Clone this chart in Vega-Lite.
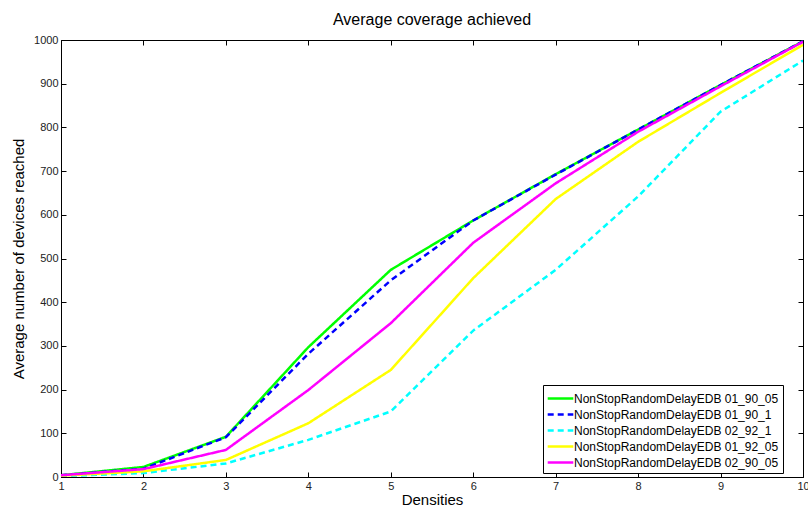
{
  "$schema": "https://vega.github.io/schema/vega-lite/v6.json",
  "width": 742,
  "height": 437,
  "autosize": "none",
  "padding": {"left": 61, "top": 40, "right": 5, "bottom": 30},
  "config": {
    "font": "Liberation Sans",
    "view": {"stroke": "black", "strokeWidth": 1},
    "axis": {"grid": false, "domainColor": "black", "tickColor": "black", "labelColor": "#222", "titleColor": "black", "labelFont": "Liberation Sans", "titleFont": "Liberation Sans", "labelFontSize": 11, "titleFontSize": 15, "titleFontWeight": "normal"}
  },
  "title": {"text": "Average coverage achieved", "fontSize": 16, "fontWeight": "normal", "font": "Liberation Sans", "color": "black", "offset": 6},
  "data": {"values": [
    {"d": 1, "v": 4, "s": "NonStopRandomDelayEDB 01_90_05"},
    {"d": 2, "v": 23, "s": "NonStopRandomDelayEDB 01_90_05"},
    {"d": 3, "v": 92, "s": "NonStopRandomDelayEDB 01_90_05"},
    {"d": 4, "v": 297, "s": "NonStopRandomDelayEDB 01_90_05"},
    {"d": 5, "v": 474, "s": "NonStopRandomDelayEDB 01_90_05"},
    {"d": 6, "v": 587, "s": "NonStopRandomDelayEDB 01_90_05"},
    {"d": 7, "v": 693, "s": "NonStopRandomDelayEDB 01_90_05"},
    {"d": 8, "v": 795, "s": "NonStopRandomDelayEDB 01_90_05"},
    {"d": 9, "v": 897, "s": "NonStopRandomDelayEDB 01_90_05"},
    {"d": 10, "v": 997, "s": "NonStopRandomDelayEDB 01_90_05"},
    {"d": 1, "v": 4, "s": "NonStopRandomDelayEDB 01_90_1"},
    {"d": 2, "v": 19, "s": "NonStopRandomDelayEDB 01_90_1"},
    {"d": 3, "v": 91, "s": "NonStopRandomDelayEDB 01_90_1"},
    {"d": 4, "v": 282, "s": "NonStopRandomDelayEDB 01_90_1"},
    {"d": 5, "v": 450, "s": "NonStopRandomDelayEDB 01_90_1"},
    {"d": 6, "v": 587, "s": "NonStopRandomDelayEDB 01_90_1"},
    {"d": 7, "v": 692, "s": "NonStopRandomDelayEDB 01_90_1"},
    {"d": 8, "v": 795, "s": "NonStopRandomDelayEDB 01_90_1"},
    {"d": 9, "v": 897, "s": "NonStopRandomDelayEDB 01_90_1"},
    {"d": 10, "v": 997, "s": "NonStopRandomDelayEDB 01_90_1"},
    {"d": 1, "v": 2, "s": "NonStopRandomDelayEDB 02_92_1"},
    {"d": 2, "v": 9, "s": "NonStopRandomDelayEDB 02_92_1"},
    {"d": 3, "v": 31, "s": "NonStopRandomDelayEDB 02_92_1"},
    {"d": 4, "v": 85, "s": "NonStopRandomDelayEDB 02_92_1"},
    {"d": 5, "v": 150, "s": "NonStopRandomDelayEDB 02_92_1"},
    {"d": 6, "v": 335, "s": "NonStopRandomDelayEDB 02_92_1"},
    {"d": 7, "v": 474, "s": "NonStopRandomDelayEDB 02_92_1"},
    {"d": 8, "v": 642, "s": "NonStopRandomDelayEDB 02_92_1"},
    {"d": 9, "v": 836, "s": "NonStopRandomDelayEDB 02_92_1"},
    {"d": 10, "v": 953, "s": "NonStopRandomDelayEDB 02_92_1"},
    {"d": 1, "v": 3, "s": "NonStopRandomDelayEDB 01_92_05"},
    {"d": 2, "v": 13, "s": "NonStopRandomDelayEDB 01_92_05"},
    {"d": 3, "v": 39, "s": "NonStopRandomDelayEDB 01_92_05"},
    {"d": 4, "v": 123, "s": "NonStopRandomDelayEDB 01_92_05"},
    {"d": 5, "v": 245, "s": "NonStopRandomDelayEDB 01_92_05"},
    {"d": 6, "v": 455, "s": "NonStopRandomDelayEDB 01_92_05"},
    {"d": 7, "v": 636, "s": "NonStopRandomDelayEDB 01_92_05"},
    {"d": 8, "v": 767, "s": "NonStopRandomDelayEDB 01_92_05"},
    {"d": 9, "v": 879, "s": "NonStopRandomDelayEDB 01_92_05"},
    {"d": 10, "v": 989, "s": "NonStopRandomDelayEDB 01_92_05"},
    {"d": 1, "v": 4, "s": "NonStopRandomDelayEDB 02_90_05"},
    {"d": 2, "v": 18, "s": "NonStopRandomDelayEDB 02_90_05"},
    {"d": 3, "v": 62, "s": "NonStopRandomDelayEDB 02_90_05"},
    {"d": 4, "v": 199, "s": "NonStopRandomDelayEDB 02_90_05"},
    {"d": 5, "v": 352, "s": "NonStopRandomDelayEDB 02_90_05"},
    {"d": 6, "v": 536, "s": "NonStopRandomDelayEDB 02_90_05"},
    {"d": 7, "v": 672, "s": "NonStopRandomDelayEDB 02_90_05"},
    {"d": 8, "v": 790, "s": "NonStopRandomDelayEDB 02_90_05"},
    {"d": 9, "v": 894, "s": "NonStopRandomDelayEDB 02_90_05"},
    {"d": 10, "v": 996, "s": "NonStopRandomDelayEDB 02_90_05"}
  ]},
  "layer": [
    {
      "mark": {"type": "line", "strokeWidth": 2.5, "clip": true},
      "encoding": {
        "x": {"field": "d", "type": "quantitative", "scale": {"domain": [1, 10], "nice": false, "zero": false},
              "axis": {"orient": "bottom", "title": "Densities", "format": "d", "values": [1,2,3,4,5,6,7,8,9,10], "tickSize": -5, "labelPadding": 8, "titlePadding": 1, "labelFlush": false}},
        "y": {"field": "v", "type": "quantitative", "scale": {"domain": [0, 1000], "nice": false},
              "axis": {"orient": "left", "title": "Average number of devices reached", "format": "d", "values": [0,100,200,300,400,500,600,700,800,900,1000], "tickSize": -5, "labelPadding": 8, "titlePadding": 7}},
        "color": {"field": "s", "type": "nominal", "title": null,
          "scale": {"domain": ["NonStopRandomDelayEDB 01_90_05", "NonStopRandomDelayEDB 01_90_1", "NonStopRandomDelayEDB 02_92_1", "NonStopRandomDelayEDB 01_92_05", "NonStopRandomDelayEDB 02_90_05"],
                    "range": ["#00ff00", "#0000ff", "#00ffff", "#ffff00", "#ff00ff"]},
          "legend": {"orient": "none", "legendX": 482, "legendY": 345, "fillColor": "white", "strokeColor": "black", "padding": 4, "symbolType": "M-1.6,0H1.6", "symbolSize": 256, "symbolStrokeWidth": 2.5, "labelFontSize": 12, "labelFont": "Liberation Sans", "labelColor": "black", "labelLimit": 400, "labelExpr": "datum.label + '    '", "rowPadding": 0, "symbolOffset": 4, "labelOffset": 4}},
        "strokeDash": {"field": "s", "type": "nominal", "title": null,
          "scale": {"domain": ["NonStopRandomDelayEDB 01_90_05", "NonStopRandomDelayEDB 01_90_1", "NonStopRandomDelayEDB 02_92_1", "NonStopRandomDelayEDB 01_92_05", "NonStopRandomDelayEDB 02_90_05"],
                    "range": [[1, 0], [6, 4], [6, 4], [1, 0], [1, 0]]}}
      }
    },
    {
      "mark": {"type": "line", "opacity": 0},
      "encoding": {
        "x": {"field": "d", "type": "quantitative", "axis": {"orient": "top", "title": null, "labels": false, "domain": false, "values": [1,2,3,4,5,6,7,8,9,10], "tickSize": -5}},
        "y": {"field": "v", "type": "quantitative", "axis": {"orient": "right", "title": null, "labels": false, "domain": false, "values": [0,100,200,300,400,500,600,700,800,900,1000], "tickSize": -5}},
        "detail": {"field": "s"}
      }
    }
  ],
  "resolve": {"axis": {"x": "independent", "y": "independent"}}
}
